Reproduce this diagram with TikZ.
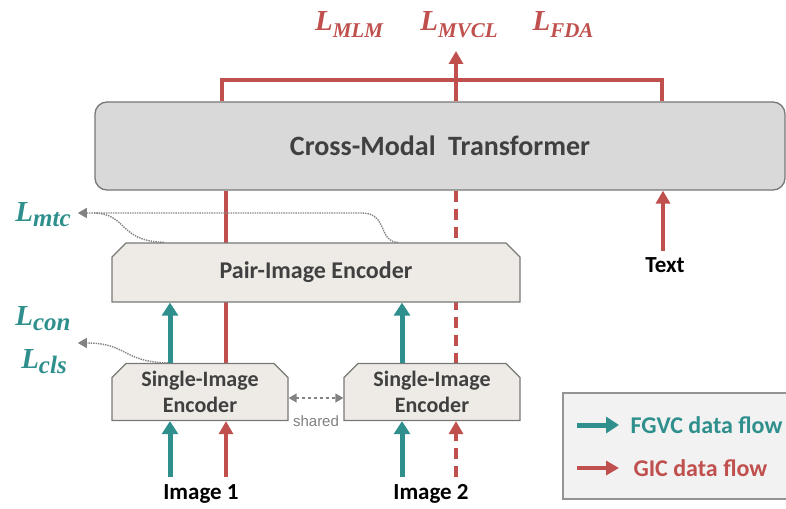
\documentclass[tikz,border=0pt]{standalone}
\usepackage{fontspec}
\setmainfont{Carlito}
\newfontfamily\lfont{Liberation Serif}
\newfontfamily\shfont{Liberation Sans}
\usetikzlibrary{shapes.misc,arrows.meta,backgrounds,calc}
\definecolor{tealc}{RGB}{46,143,140}
\definecolor{redc}{RGB}{192,80,77}
\definecolor{boxgray}{RGB}{217,217,217}
\definecolor{beige}{RGB}{238,235,230}
\definecolor{edgegray}{RGB}{120,120,120}
\definecolor{txtgray}{RGB}{64,64,64}
\definecolor{dotgray}{RGB}{130,130,130}
\tikzset{
  x=1pt, y=-1pt,
  cmtbox/.style={draw=edgegray, line width=1.3pt, fill=boxgray, rounded corners=12pt,
    minimum width=690pt, minimum height=88pt, inner sep=0pt,
    font=\fontsize{28}{32}\selectfont\bfseries, text=txtgray},
  encbox/.style={draw=edgegray, line width=1.3pt, fill=beige, chamfered rectangle,
    chamfered rectangle corners={north west,north east},
    chamfered rectangle xsep=7pt, chamfered rectangle ysep=7pt,
    inner sep=0pt, text=txtgray, align=center},
  losslbl/.style={font=\fontsize{29}{32}\selectfont\lfont\bfseries\itshape, inner sep=2pt},
  imglbl/.style={font=\fontsize{23}{26}\selectfont\bfseries, text=black},
  redline/.style={draw=redc, line width=4pt},
  redarrow/.style={redline, -{Triangle[length=13pt,width=14pt]}},
  reddash/.style={redline, dash pattern=on 11pt off 7pt},
  tealarrow/.style={draw=tealc, line width=5pt, -{Triangle[length=13pt,width=16pt]}},
  dotarrow/.style={draw=dotgray, line width=1.4pt, densely dotted, -{Triangle[length=9pt,width=10pt]}},
  dotline/.style={draw=dotgray, line width=1.4pt, densely dotted},
}
\newcommand{\lossU}[1]{L\raisebox{-7pt}{\fontsize{21}{23}\selectfont #1}}
\newcommand{\lossl}[1]{L\raisebox{-5pt}{\fontsize{25}{27}\selectfont #1}}
\begin{document}
\begin{tikzpicture}
\useasboundingbox (0,0) rectangle (786,508);
\clip (0,0) rectangle (786,508);

% top losses
\node[losslbl, text=redc] (lmlm) at (349,25) {\lossU{MLM}};
\node[losslbl, text=redc] (lmvcl) at (459,25) {\lossU{MVCL}};
\node[losslbl, text=redc] (lfda) at (563,25) {\lossU{FDA}};

% left losses
\node[losslbl, text=tealc] (lmtc) at (43,215) {\lossl{mtc}};
\node[losslbl, text=tealc] (lcon) at (43,319) {\lossl{con}};
\node[losslbl, text=tealc] (lcls) at (44,362) {\lossl{cls}};

% main boxes
\node[cmtbox] (cmt) at (440,146) {Cross-Modal\hspace{0.45em}Transformer};
\node[encbox, minimum width=408pt, minimum height=59pt,
      font=\fontsize{24}{28}\selectfont\bfseries] (pie) at (316,272.5) {Pair-Image Encoder};
\node[encbox, minimum width=176pt, minimum height=57pt,
      font=\fontsize{22}{26}\selectfont\bfseries] (se1) at (200,392) {Single-Image\\Encoder};
\node[encbox, minimum width=176pt, minimum height=57pt,
      font=\fontsize{22}{26}\selectfont\bfseries] (se2) at (432,392) {Single-Image\\Encoder};

% labels
\node[imglbl] (img1) at (201,494) {Image 1};
\node[imglbl] (img2) at (431,494) {Image 2};
\node[imglbl] (txt) at (665,265) {Text};
\node[font=\fontsize{15}{17}\selectfont\shfont, text=gray] (shared) at (316,421) {shared};

% coordinates
\coordinate (xL) at (222,80);
\coordinate (xR) at (662,80);
\coordinate (topc) at (456,51);
\coordinate (a1t) at (170,477);
\coordinate (a1r) at (226,477);
\coordinate (a2t) at (402,477);
\coordinate (a2r) at (456,477);
\coordinate (txtc) at (663,251);

\begin{scope}[on background layer]
  \draw[redline] (cmt.south -| a1r) -- (se1.north -| a1r);
  \draw[reddash] (cmt.south -| a2r) -- (se2.north -| a2r);
  % dotted L_mtc connectors
  \draw[dotarrow, shorten >=5pt] (pie.north -| 398,0) .. controls (378,242) and (388,213) .. (362,213) -- (lmtc.east |- 0,213);
  \draw[dotline] (pie.north -| 164,0) .. controls (118,241) and (128,214) .. (94,213);
\end{scope}

% top bracket and arrow
\draw[redline] (cmt.north -| xL) -- (xL) -- (xR) -- (cmt.north -| xR);
\draw[redarrow] (cmt.north -| topc) -- (topc);

% text arrow
\draw[redarrow] (txtc) -- (cmt.south -| txtc);

% teal arrows between encoders
\draw[tealarrow] (se1.north -| a1t) -- (pie.south -| a1t);
\draw[tealarrow] (se2.north -| a2t) -- (pie.south -| a2t);

% bottom input arrows
\draw[tealarrow] (a1t) -- (se1.south -| a1t);
\draw[redarrow] (a1r) -- (se1.south -| a1r);
\draw[tealarrow] (a2t) -- (se2.south -| a2t);
\draw[redarrow, dash pattern=on 11pt off 7pt] (a2r) -- (se2.south -| a2r);

% L_con/L_cls dotted arrow
\draw[dotarrow, shorten >=5pt] (se1.north -| 168,0) .. controls (122,362) and (128,343) .. (lcon.east |- 0,343);

% shared
\draw[draw=dotgray, line width=1.4pt, dashed, {Triangle[length=8pt,width=9pt]}-{Triangle[length=8pt,width=9pt]}]
  ($(se1.east)+(0,6)$) -- ($(se2.west)+(0,6)$);

% legend
\node[draw=edgegray!80, line width=1.5pt, fill=gray!10, minimum width=232pt, minimum height=106pt,
      inner sep=0pt] (legend) at (679,446) {};
\coordinate (lt1) at (577,425);
\coordinate (lt2) at (619,425);
\coordinate (lr1) at (577,468);
\coordinate (lr2) at (619,468);
\draw[tealarrow] (lt1) -- (lt2);
\draw[redarrow] (lr1) -- (lr2);
\node[anchor=west, text=tealc, font=\fontsize{24}{28}\selectfont\bfseries] (lgt) at (627,425) {FGVC data flow};
\node[anchor=west, text=redc, font=\fontsize{24}{28}\selectfont\bfseries] (lgr) at (630,468) {GIC data flow};
\end{tikzpicture}
\end{document}
